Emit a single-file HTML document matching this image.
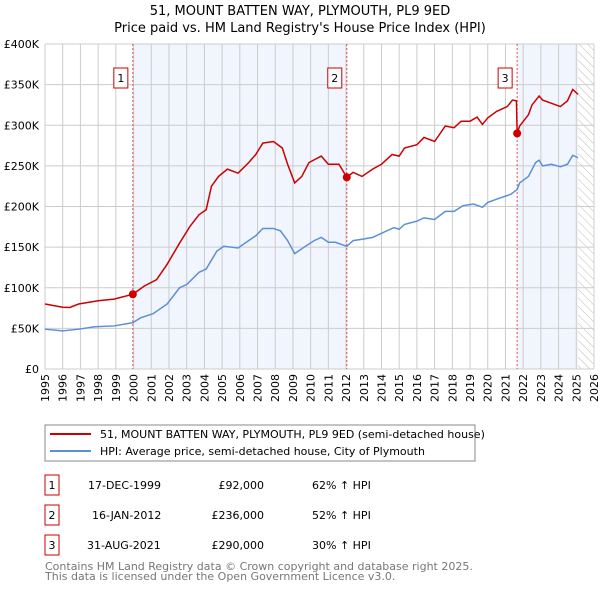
<!DOCTYPE html>
<html><head><meta charset="utf-8"><style>
body{margin:0;background:#fff;}
svg text{font-family:"DejaVu Sans","Liberation Sans",sans-serif;}
</style></head><body>
<svg id="chart" width="600" height="590" viewBox="0 0 600 590" xmlns="http://www.w3.org/2000/svg">
<defs><pattern id="hatch" width="6" height="6" patternUnits="userSpaceOnUse" patternTransform="rotate(-45)"><line x1="0" y1="0" x2="0" y2="6" stroke="#bbb" stroke-width="1"/></pattern></defs>
<text x="300" y="15" text-anchor="middle" font-size="13">51, MOUNT BATTEN WAY, PLYMOUTH, PL9 9ED</text>
<text x="300" y="32" text-anchor="middle" font-size="13">Price paid vs. HM Land Registry's House Price Index (HPI)</text>
<g id="plot"></g>
<g>
<rect x="45" y="425" width="430" height="36" fill="#fff" stroke="#888"/>
<line x1="50" y1="434" x2="91" y2="434" stroke="#cc0000" stroke-width="2"/>
<text x="100" y="438" font-size="11">51, MOUNT BATTEN WAY, PLYMOUTH, PL9 9ED (semi-detached house)</text>
<line x1="50" y1="451" x2="91" y2="451" stroke="#5b8fd6" stroke-width="2"/>
<text x="100" y="455" font-size="11">HPI: Average price, semi-detached house, City of Plymouth</text>
</g>
<g font-size="11">
<rect x="45" y="475" width="14" height="20" fill="#fff" stroke="#cc0000"/><text x="52" y="489" text-anchor="middle">1</text>
<text x="88" y="489">17-DEC-1999</text><text x="264" y="489" text-anchor="end">£92,000</text><text x="312" y="489">62% ↑ HPI</text>
<rect x="45" y="505" width="14" height="20" fill="#fff" stroke="#cc0000"/><text x="52" y="519" text-anchor="middle">2</text>
<text x="92" y="519">16-JAN-2012</text><text x="264" y="519" text-anchor="end">£236,000</text><text x="312" y="519">52% ↑ HPI</text>
<rect x="45" y="535" width="14" height="20" fill="#fff" stroke="#cc0000"/><text x="52" y="549" text-anchor="middle">3</text>
<text x="87" y="549">31-AUG-2021</text><text x="264" y="549" text-anchor="end">£290,000</text><text x="312" y="549">30% ↑ HPI</text>
</g>
<text x="45" y="570" font-size="11" fill="#777">Contains HM Land Registry data © Crown copyright and database right 2025.</text>
<text x="45" y="580" font-size="11" fill="#777">This data is licensed under the Open Government Licence v3.0.</text>
</svg>
<script>
const yTicks=[0,50,100,150,200,250,300,350,400];
const xYears=[1995,1996,1997,1998,1999,2000,2001,2002,2003,2004,2005,2006,2007,2008,2009,2010,2011,2012,2013,2014,2015,2016,2017,2018,2019,2020,2021,2022,2023,2024,2025,2026];
const redYears=[1995,1996.0,1996.4,1996.9,1998.0,1998.9,1999.96,2000.6,2001.3,2001.9,2002.6,2003.2,2003.7,2004.1,2004.4,2004.8,2005.3,2005.9,2006.5,2006.9,2007.3,2007.9,2008.4,2008.7,2009.1,2009.5,2009.9,2010.6,2011.0,2011.6,2012.04,2012.4,2012.9,2013.5,2014.0,2014.6,2015.0,2015.3,2016.0,2016.4,2017.0,2017.6,2018.1,2018.5,2019.0,2019.4,2019.7,2020.0,2020.5,2021.1,2021.4,2021.62,2021.66,2021.8,2022.3,2022.5,2022.9,2023.1,2023.6,2024.1,2024.5,2024.8,2025.1];
const redVals=[80,76,75.7,80,84,86,92,102,110,129,155,176,190,196,225,237,246,241,254,264,278,280,272,252,229,237,254,262,252,252,236,242,237,246,252,264,262,272,276,285,280,299,297,305,305,310,301,309,317,323,331,330,290,299,313,325,336,331,327,323,330,344,338];
const blueYears=[1995,1996.0,1996.9,1997.8,1998.9,1999.96,2000.4,2001.1,2001.9,2002.6,2003.0,2003.7,2004.1,2004.7,2005.1,2005.9,2006.5,2006.9,2007.3,2007.9,2008.3,2008.7,2009.1,2009.7,2010.2,2010.6,2011.0,2011.4,2012.04,2012.4,2013.0,2013.5,2014.0,2014.7,2015.0,2015.3,2016.0,2016.4,2017.0,2017.6,2018.1,2018.6,2019.2,2019.7,2020.0,2020.5,2021.3,2021.66,2021.8,2022.3,2022.7,2022.9,2023.1,2023.6,2024.1,2024.5,2024.8,2025.1];
const blueVals=[49,47,49,52,53,57,63,68,80,100,104,119,123,145,151,149,158,164,173,173,170,158,142,151,158,162,156,156,151,158,160,162,167,174,172,178,182,186,184,194,194,201,203,199,205,209,215,221,229,237,254,257,250,252,249,252,263,260];
const sales=[{n:"1",y:1999.96,v:92},{n:"2",y:2012.04,v:236},{n:"3",y:2021.66,v:290}];
const X0=45,X1=594,Y0=369,Y1=44;
const sx=y=>X0+(y-1995)/(31)*(X1-X0);
const sy=v=>Y0-v/400*(Y0-Y1);
const NS="http://www.w3.org/2000/svg";
const g=document.getElementById('plot');
function mk(t,a,p){const e=document.createElementNS(NS,t);for(const k in a)e.setAttribute(k,a[k]);(p||g).appendChild(e);return e;}
let e;
e=mk('rect',{x:sx(sales[0].y),y:Y1,width:sx(sales[1].y)-sx(sales[0].y),height:Y0-Y1,fill:'#eef3fc',opacity:0.8});


e=mk('rect',{x:sx(sales[2].y),y:Y1,width:sx(2025.1)-sx(sales[2].y),height:Y0-Y1,fill:'#eef3fc',opacity:0.8});


e=mk('rect',{x:sx(2025.1),y:Y1,width:X1-sx(2025.1),height:Y0-Y1,fill:'url(#hatch)'});


xYears.forEach(yr=>{
 e=mk('line',{x1:sx(yr),x2:sx(yr),y1:Y1,y2:Y0,stroke:'#ccc','stroke-width':1});
 
 
 e=mk('text',{x:0,y:0,'font-size':11,'text-anchor':'end',transform:`translate(${sx(yr)+4},${Y0+5}) rotate(-90)`});
 e.textContent=yr;
 
 
});
yTicks.forEach(v=>{
 e=mk('line',{x1:X0,x2:X1,y1:sy(v),y2:sy(v),stroke:'#ccc','stroke-width':1});
 
 
 e=mk('text',{x:X0-6,y:sy(v)+4,'font-size':11,'text-anchor':'end'});
 e.textContent=v===0?'£0':'£'+v+'K';
 
 
});
sales.forEach(s=>{
 e=mk('line',{x1:sx(s.y),x2:sx(s.y),y1:Y1,y2:Y0,stroke:'#e05050','stroke-width':1,'stroke-dasharray':'2,2'});
 
 
});
e=mk('polyline',{points:blueYears.map((y,i)=>sx(y)+','+sy(blueVals[i])).join(' '),fill:'none',stroke:'#5b8fd6','stroke-width':1.5});


e=mk('polyline',{points:redYears.map((y,i)=>sx(y)+','+sy(redVals[i])).join(' '),fill:'none',stroke:'#cc0000','stroke-width':1.5});


sales.forEach(s=>{
 e=mk('circle',{cx:sx(s.y),cy:sy(s.v),r:4,fill:'#cc0000'});
 
 
 e=mk('rect',{x:sx(s.y)-19,y:68,width:14,height:20,fill:'#fff',stroke:'#cc0000'});
 
 
 e=mk('text',{x:sx(s.y)-12,y:82,'font-size':11,'text-anchor':'middle'});
 e.textContent=s.n;
 
 
});
</script>
</body></html>
